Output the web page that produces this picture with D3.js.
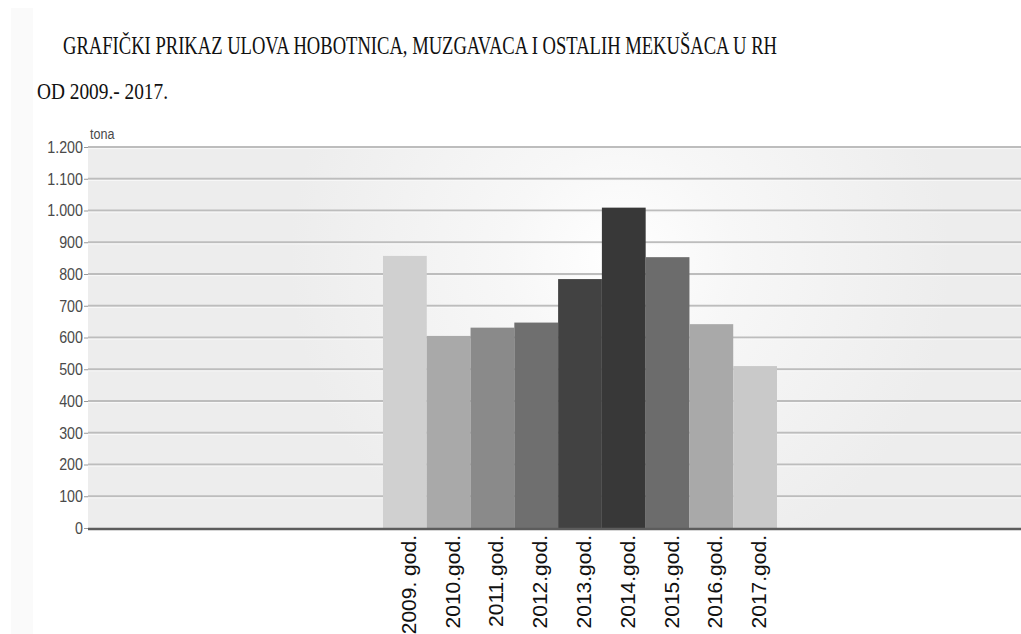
<!DOCTYPE html>
<meta charset="utf-8">
<style>
  body { margin: 0; background: #fff; }
  .title { font-family: "Liberation Serif", "Times New Roman", serif; fill: #111; }
  .ytick text { font-family: "Liberation Sans", Arial, sans-serif; font-size: 17px; fill: #4a4a4a; }
  .xlab { font-family: "Liberation Sans", Arial, sans-serif; font-size: 21px; fill: #111; }
  .unit { font-family: "Liberation Sans", Arial, sans-serif; font-size: 15px; fill: #4a4a4a; }
</style>
<body>
<script src="https://d3js.org/d3.v7.min.js"></script>
<script>
// data (tonnes per year)
const years = ["2009. god.", "2010.god.", "2011.god.", "2012.god.", "2013.god.",
               "2014.god.", "2015.god.", "2016.god.", "2017.god."];
const catch_t = [857, 605, 631, 647, 784, 1009, 853, 642, 510];
const yTicks = [0, 100, 200, 300, 400, 500, 600, 700, 800, 900, 1000, 1100, 1200];

// bar greys, one per year
const barColors = ["#d0d0d0", "#a9a9a9", "#8a8a8a", "#6f6f6f", "#424242",
                   "#383838", "#6c6c6c", "#a9a9a9", "#c9c9c9"];

const W = 1021, H = 634;
const plot = {left: 88, right: W, top: 147, bottom: 528};

const svg = d3.select("body").append("svg")
  .attr("width", W).attr("height", H);

const defs = svg.append("defs");
const glow = defs.append("radialGradient")
  .attr("id", "glow")
  .attr("gradientUnits", "userSpaceOnUse")
  .attr("cx", 620).attr("cy", 260).attr("r", 330);
glow.append("stop").attr("offset", "0%").attr("stop-color", "#ffffff");
glow.append("stop").attr("offset", "35%").attr("stop-color", "#f7f7f7");
glow.append("stop").attr("offset", "100%").attr("stop-color", "#ededed");

// faint strip on the left of the scan
svg.append("rect").attr("x", 11).attr("y", 8).attr("width", 22).attr("height", H - 8)
  .attr("fill", "#fafafa");

// titles
svg.append("text").attr("class", "title")
  .attr("x", 63).attr("y", 54)
  .attr("font-size", 26)
  .attr("textLength", 714).attr("lengthAdjust", "spacingAndGlyphs")
  .text("GRAFIČKI PRIKAZ ULOVA HOBOTNICA, MUZGAVACA I OSTALIH MEKUŠACA U RH");
svg.append("text").attr("class", "title")
  .attr("x", 37).attr("y", 99)
  .attr("font-size", 24)
  .attr("textLength", 131).attr("lengthAdjust", "spacingAndGlyphs")
  .text("OD 2009.- 2017.");

const y = d3.scaleLinear().domain([0, 1200]).range([plot.bottom, plot.top]);
// bars sit in the middle section of the wide plot
const x = d3.scaleBand().domain(years).range([383, 777]).padding(0);

// plot background
svg.append("rect")
  .attr("x", plot.left).attr("y", plot.top)
  .attr("width", plot.right - plot.left).attr("height", plot.bottom - plot.top)
  .attr("fill", "url(#glow)");

// gridlines (with a light highlight underneath)
const grid = svg.append("g");
grid.selectAll("line.g1").data(yTicks.slice(1)).join("line")
  .attr("class", "g1")
  .attr("x1", plot.left).attr("x2", plot.right)
  .attr("y1", d => y(d)).attr("y2", d => y(d))
  .attr("stroke", "#bdbdbd").attr("stroke-width", 1.8);
grid.selectAll("line.g2").data(yTicks.slice(1)).join("line")
  .attr("class", "g2")
  .attr("x1", plot.left).attr("x2", plot.right)
  .attr("y1", d => y(d) + 1.6).attr("y2", d => y(d) + 1.6)
  .attr("stroke", "#f8f8f8").attr("stroke-width", 1);

// y axis, labels a little condensed like the original
const yAxis = d3.axisLeft(y).tickValues(yTicks).tickSize(4).tickPadding(2)
  .tickFormat(d => d3.format(",")(d).replace(/,/g, "."));
svg.append("g").attr("class", "ytick")
  .attr("transform", `translate(${plot.left},0)`)
  .call(yAxis)
  .call(g => g.select(".domain").remove())
  .call(g => g.selectAll("line").attr("stroke", "#999"))
  .call(g => g.selectAll("text").attr("x", 0).attr("transform", "translate(-5,0) scale(0.84,1)"));

svg.append("text").attr("class", "unit")
  .attr("transform", `translate(${plot.left + 2},${plot.top - 8}) scale(0.84,1)`)
  .text("tona");

// bars
svg.append("g").selectAll("rect").data(years).join("rect")
  .attr("x", d => x(d))
  .attr("y", (d, i) => y(catch_t[i]))
  .attr("width", x.bandwidth())
  .attr("height", (d, i) => y(0) - y(catch_t[i]))
  .attr("fill", (d, i) => barColors[i]);

// baseline
svg.append("line")
  .attr("x1", plot.left).attr("x2", plot.right)
  .attr("y1", y(0) + 1).attr("y2", y(0) + 1)
  .attr("stroke", "#5c5c5c").attr("stroke-width", 2.5);

// rotated category labels
svg.append("g").selectAll("text").data(years).join("text")
  .attr("class", "xlab")
  .attr("text-anchor", "end")
  .attr("transform", d => `translate(${x(d) + x.bandwidth() / 2 + 11},535) rotate(-90)`)
  .text(d => d);
</script>
</body>
